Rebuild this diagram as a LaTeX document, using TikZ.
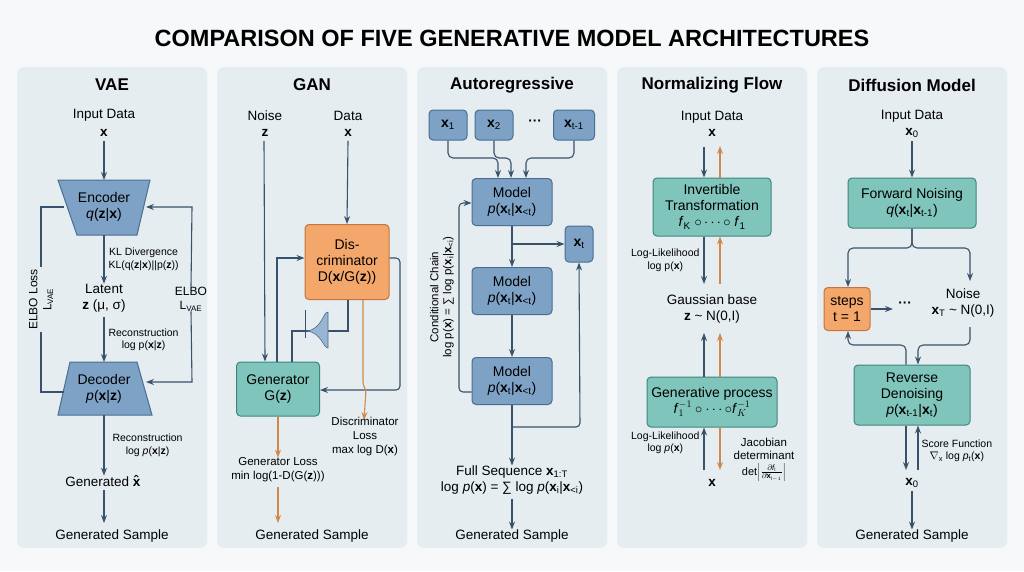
\documentclass[tikz,border=0pt]{standalone}
\usepackage{fontspec}
\setmainfont{Liberation Sans}
\usepackage{tikz}
\usetikzlibrary{positioning,calc,arrows.meta}
\definecolor{pagec}{HTML}{F6F8F9}
\definecolor{panelc}{HTML}{E6EDF1}
\definecolor{arrowc}{HTML}{37526A}
\definecolor{bluefill}{HTML}{7EA2C6}
\definecolor{blueline}{HTML}{4A6D90}
\definecolor{tealfill}{HTML}{80C5BB}
\definecolor{tealline}{HTML}{3D867D}
\definecolor{orfill}{HTML}{F3A76A}
\definecolor{orline}{HTML}{C7743A}
\definecolor{orarrow}{HTML}{D0894A}
\tikzset{>=Stealth}
\newcommand*{\bx}[1]{\textbf{#1}}
\newcommand*{\lo}[1]{\textsubscript{#1}}
\newcommand*{\hi}[1]{\textsuperscript{#1}}

\begin{document}
\begin{tikzpicture}[x=1pt,y=-1pt,
  lbl/.style={font=\fontsize{13.5}{16}\selectfont,inner sep=0,align=center},
  sml/.style={font=\fontsize{10.5}{12.5}\selectfont,inner sep=0,align=center},
  ttl/.style={font=\fontsize{17}{20}\selectfont\bfseries,inner sep=0},
  box/.style={rounded corners=4pt,line width=1pt,align=center,inner sep=1pt,
    font=\fontsize{14}{16}\selectfont},
  bluebox/.style={box,draw=blueline,fill=bluefill},
  tealbox/.style={box,draw=tealline,fill=tealfill},
  orbox/.style={box,draw=orline,fill=orfill},
  arr/.style={->,line width=1.1pt,draw=arrowc,rounded corners=5pt},
  ln/.style={line width=1.1pt,draw=arrowc,rounded corners=5pt},
  oarr/.style={->,line width=1.1pt,draw=orarrow,rounded corners=3pt}]
\useasboundingbox (0,0) rectangle (1024,571);
\fill[pagec] (0,0) rectangle (1024,571);

% Title and panels
\node[font=\fontsize{23.5}{28}\selectfont\bfseries] (title) at (512,38)
  {COMPARISON OF FIVE GENERATIVE MODEL ARCHITECTURES};
\foreach \xa in {17,217,417,617,817}
  \fill[panelc,rounded corners=7pt] (\xa,67) rectangle +(190,481);

% ---------------- VAE ----------------
\node[ttl] (vaet) at (112,85) {VAE};
\node[lbl] (vin) at (104,115) {Input Data};
\node[lbl] (vx) at (104,133) {\bx{x}};
\fill[bluefill,draw=blueline,line width=1pt] (58,180) -- (150,180) -- (137,235) -- (77,235) -- cycle;
\node[box] (enc) at (104,207) {Encoder\\\textit{q}(\bx{z}|\bx{x})};
\coordinate (encT) at (104,180); \coordinate (encB) at (104,235);
\node[lbl] (lat) at (104,298) {Latent\\\bx{z} (μ, σ)};
\fill[bluefill,draw=blueline,line width=1pt] (70,362) -- (137,362) -- (152,415) -- (58,415) -- cycle;
\node[box] (dec) at (104,389) {Decoder\\\textit{p}(\bx{x}|\bx{z})};
\coordinate (decT) at (104,362); \coordinate (decB) at (104,415);
\node[lbl] (gen) at (104,481) {Generated \bx{x̂}};
\node[lbl] (vs) at (112,536) {Generated Sample};
\draw[arr] (vx.south) ++(0,4) -- (encT);
\draw[arr] (encB) -- node[sml,right=4pt] {KL Divergence\\KL(q(\bx{z}|\bx{x})||p(\bx{z}))} (lat.north);
\draw[arr] (lat.south) ++(0,5) -- node[sml,right=4pt] {Reconstruction\\log p(\bx{x}|\bx{z})} (decT);
\draw[arr] (decB) -- node[sml,right=8pt] {Reconstruction\\log \textit{p}(\bx{x}|\bx{z})} (gen.north);
\draw[arr] (gen.south -| 104,0) ++(0,4) -- (104,523);
\draw[ln,rounded corners=0pt] (64,207) -- (41,207) -- node[sml,rotate=90,font=\fontsize{12}{14}\selectfont,fill=panelc,inner sep=2pt] (elbo1)
  {ELBO Loss\\L\lo{VAE}} (41,392) -- (64,392);
\node[sml,font=\fontsize{12}{14}\selectfont] (elbo2) at (191,299) {ELBO\\L\lo{VAE}};
\draw[arr,rounded corners=0pt] (elbo2.north) -- (192,207) -- (146,207);
\draw[arr,rounded corners=0pt] (elbo2.south) -- (192,382) -- (146,382);

% ---------------- GAN ----------------
\node[ttl] (gant) at (312,85) {GAN};
\node[lbl] (noise) at (265,124) {Noise\\\bx{z}};
\node[lbl] (data) at (348,124) {Data\\\bx{x}};
\node[orbox,minimum width=84pt,minimum height=75pt] (disc) at (347,262)
  {Dis-\\criminator\\D(\bx{x}/G(\bx{z}))};
\node[tealbox,minimum width=83pt,minimum height=54pt] (genr) at (278,389) {Generator\\G(\bx{z})};
\draw[arr] (noise.south) ++(-1,4) -- (genr.north -| 265,0);
\draw[arr] (data.south) ++(0,4) -- (disc.north);
\draw[arr,rounded corners=0pt] (genr.north -| 277,0) -- (277,258) -- (disc.west |- 0,258);
\draw[ln,rounded corners=0pt] (disc.south -| 348,0) -- (348,331) -- (292,331) -- (genr.north -| 292,0);
\draw[arrowc,line width=1pt] (305,310) -- (305,338);
\fill[bluefill!80,draw=blueline,line width=0.6pt] (307,331) .. controls (322,329) and (323,312) .. (328,312)
  -- (328,348) .. controls (323,348) and (322,333) .. (307,331) -- cycle;
\draw[arr,rounded corners=4pt] (disc.east |- 0,258) -- (400,258) -- (400,390) -- (genr.east |- 0,390);
\draw[oarr] (disc.south -| 363,0) -- (363,385) -- (366,390) -- (364,420);
\node[sml,font=\fontsize{11.5}{14}\selectfont] (dloss) at (365,437) {Discriminator\\Loss\\max log D(\bx{x})};
\node[sml,font=\fontsize{11.5}{14}\selectfont] (gloss) at (278,470) {Generator Loss\\min log(1-D(G(\bx{z})))};
\draw[oarr] (genr.south) -- (gloss.north);
\draw[oarr] (gloss.south) ++(0,5) -- (278,523);
\node[lbl] (gs) at (312,536) {Generated Sample};

% ---------------- Autoregressive ----------------
\node[ttl] (art) at (512,85) {Autoregressive};
\node[bluebox,minimum width=38pt,minimum height=30pt] (x1) at (448,125) {\bx{x}\lo{1}};
\node[bluebox,minimum width=38pt,minimum height=30pt] (x2) at (494,125) {\bx{x}\lo{2}};
\node[lbl] (dots) at (535,123) {\bfseries ···};
\node[bluebox,minimum width=41pt,minimum height=30pt] (xt1) at (574,125) {\bx{x}\lo{t-1}};
\node[bluebox,minimum width=80pt,minimum height=47pt] (m1) at (512,202) {Model\\\textit{p}(\bx{x}\lo{t}|\bx{x}\lo{<t})};
\node[bluebox,minimum width=80pt,minimum height=47pt] (m2) at (512,291) {Model\\\textit{p}(\bx{x}\lo{t}|\bx{x}\lo{<t})};
\node[bluebox,minimum width=80pt,minimum height=47pt] (m3) at (512,381) {Model\\\textit{p}(\bx{x}\lo{t}|\bx{x}\lo{<t})};
\node[bluebox,minimum width=28pt,minimum height=36pt] (xt) at (579,244) {\bx{x}\lo{t}};
\draw[arr] (x1.south) -- (448,158) -- (498,158) -- (m1.north -| 498,0);
\draw[arr] (x2.south) -- (494,158) -- (511,158) -- (m1.north -| 511,0);
\draw[arr] (xt1.south) -- (574,158) -- (526,158) -- (m1.north -| 526,0);
\draw[arr] (m1) -- (m2);
\draw[arr] (m2) -- (m3);
\draw[arr,rounded corners=0pt] (512,244) -- (xt.west);
\draw[arr,rounded corners=4pt] (m3.west |- 0,392) -- (459,392) -- (459,203) -- (m1.west |- 0,203);
\node[sml,rotate=90,font=\fontsize{11.5}{13}\selectfont] (chain) at (442,297)
  {Conditional Chain\\log p(\bx{x}) = ∑ log p(\bx{x}\lo{i}|\bx{x}\lo{<i})};
\node[lbl] (full) at (512,480) {Full Sequence \bx{x}\lo{1:T}\\log \textit{p}(\bx{x}) = ∑ log \textit{p}(\bx{x}\lo{i}|\bx{x}\lo{<i})};
\draw[arr] (m3.south) -- (full.north);
\draw[arr,rounded corners=4pt] (512,427) -- (580,427) -- (xt.south);
\node[lbl] (as) at (512,536) {Generated Sample};
\draw[arr] (full.south) ++(0,4) -- (as.north);

% ---------------- Normalizing Flow ----------------
\node[ttl] (nft) at (712,85) {Normalizing Flow};
\node[lbl] (nin) at (712,124) {Input Data\\\bx{x}};
\node[tealbox,minimum width=118pt,minimum height=58pt] (inv) at (712,207)
  {Invertible\\Transformation\\\textit{f}\lo{K} $\circ\cdots\circ$ \textit{f}\lo{1}};
\node[lbl] (gb) at (712,309) {Gaussian base\\\bx{z} \textasciitilde{} N(0,I)};
\node[tealbox,minimum width=130pt,minimum height=50pt] (gp) at (712,402)
  {Generative process\\\textit{f}$^{-1}_{1}\circ\cdots\circ$\textit{f}$^{-1}_{K}$};
\node[lbl] (nx) at (712,483) {\bx{x}};
\draw[arr] (704,147) -- (inv.north -| 704,0);
\draw[oarr] (inv.north -| 720,0) -- (720,146);
\draw[arr] (inv.south -| 704,0) -- node[sml,left=4pt] {Log-Likelihood\\log p(\bx{x})} (704,284);
\draw[oarr] (720,284) -- (inv.south -| 720,0);
\draw[arr] (gp.north -| 704,0) -- (704,333);
\draw[oarr] (gp.north -| 720,0) -- (720,333);
\draw[arr] (704,470) -- node[sml,left=4pt,yshift=6pt] {Log-Likelihood\\log \textit{p}(\bx{x})} (gp.south -| 704,0);
\draw[oarr] (gp.south -| 720,0) -- (720,470);
\node[sml,font=\fontsize{11.5}{13.5}\selectfont] (jac) at (764,449) {Jacobian\\determinant};
\node[sml,font=\fontsize{11}{13}\selectfont,below=3pt of jac] (det)
  {det$\left|\frac{\partial \mathit{f}_{\mathrm{i}}}{\partial \mathbf{x}_{\mathrm{i}-1}}\right|$};

% ---------------- Diffusion ----------------
\node[ttl] (dft) at (912,85) {Diffusion Model};
\node[lbl] (din) at (912,124) {Input Data\\\bx{x}\lo{0}};
\node[tealbox,minimum width=128pt,minimum height=50pt] (fwd) at (912,203)
  {Forward Noising\\\textit{q}(\bx{x}\lo{t}|\bx{x}\lo{t-1})};
\node[orbox,minimum width=46pt,minimum height=43pt] (steps) at (847,309) {steps\\t = 1};
\node[lbl] (ddots) at (905,305) {\bfseries ···};
\node[lbl] (dnoise) at (963,303) {Noise\\\bx{x}\lo{T} \textasciitilde{} N(0,I)};
\node[tealbox,minimum width=116pt,minimum height=60pt] (rev) at (912,395)
  {Reverse\\Denoising\\\textit{p}(\bx{x}\lo{t-1}|\bx{x}\lo{t})};
\node[lbl] (dx0) at (912,483) {\bx{x}\lo{0}};
\node[lbl] (ds) at (912,536) {Generated Sample};
\draw[arr] (din.south) ++(0,3) -- (fwd.north);
\draw[arr] (fwd.south) -- (912,248) -- (848,248) -- (steps.north -| 848,0);
\draw[arr] (fwd.south) -- (912,248) -- (970,248) -- (970,281);
\draw[arr] (steps.east) -- (893,309);
\draw[arr] (rev.north -| 906,0) -- (906,345) -- (848,345) -- (steps.south -| 848,0);
\draw[arr] (970,327) -- (970,345) -- (918,345) -- (rev.north -| 918,0);
\draw[arr] (rev.south -| 906,0) -- (906,470);
\draw[arr] (918,470) -- node[sml,right=3pt,yshift=-3pt] {Score Function\\$\nabla$\lo{x} log \textit{p}\lo{t}(\bx{x})} (rev.south -| 918,0);
\draw[arr] (dx0.south) ++(0,3) -- (ds.north);
\end{tikzpicture}
\end{document}
